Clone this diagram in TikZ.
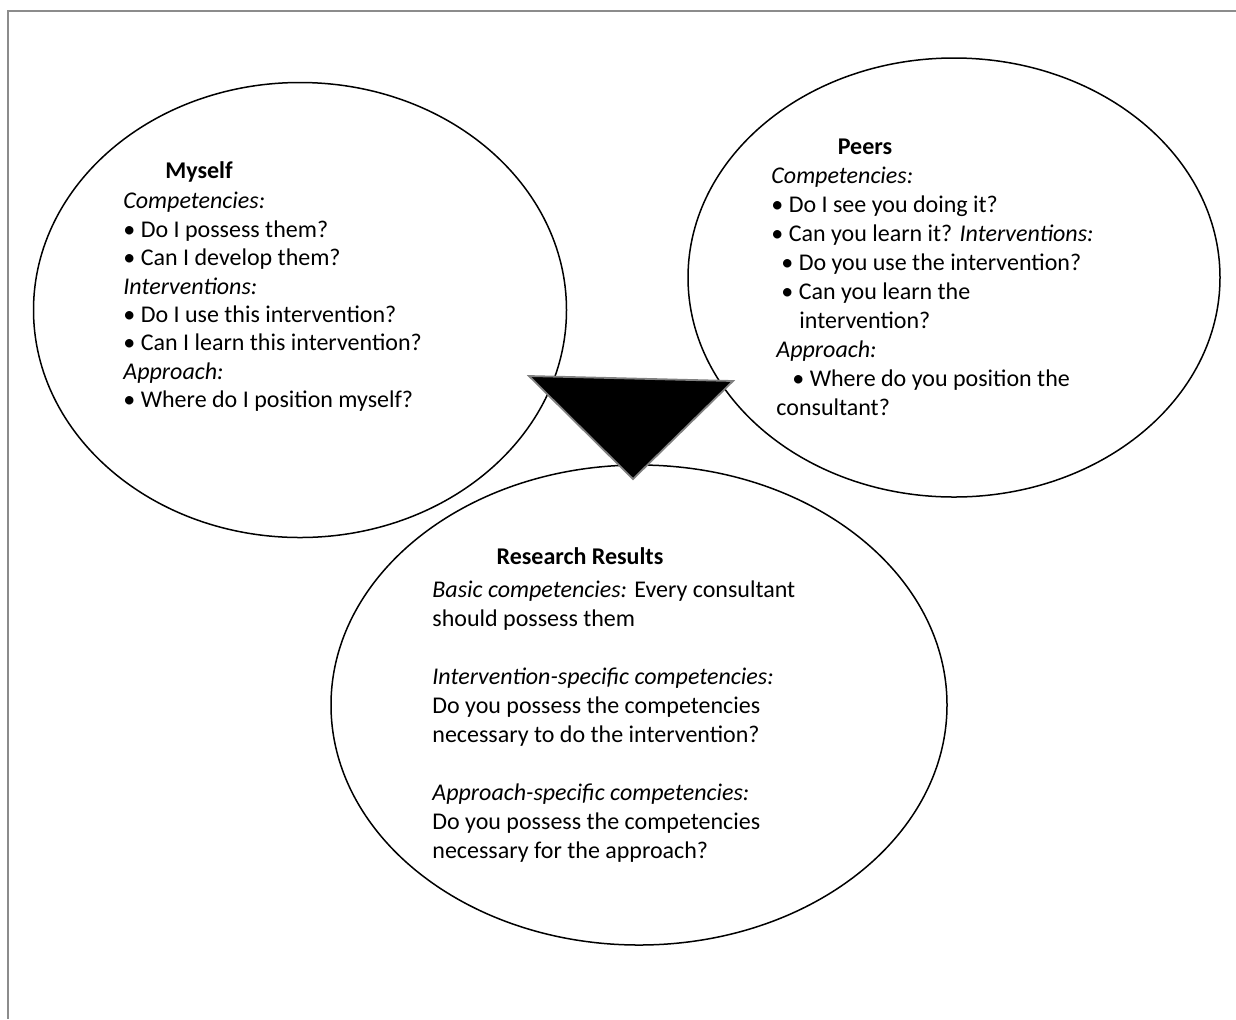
\documentclass[tikz,border=0pt]{standalone}
\usepackage{fontspec}
\setmainfont{Carlito}
\usepackage{tikz}
\usetikzlibrary{shapes.geometric}

\newcommand{\bubblefont}{\fontsize{12}{14.5}\selectfont}
\tikzset{
  bubble/.style={draw, ellipse, line width=0.75pt, inner sep=0pt},
  bubbletitle/.style={font=\bubblefont\bfseries, anchor=base, inner sep=0pt},
  bubbletext/.style={font=\bubblefont, align=left, anchor=north west, inner sep=0pt}
}

\begin{document}
\begin{tikzpicture}[x=0.5pt, y=-0.5pt]
    \useasboundingbox (0,0) rectangle (1236,1019);
    % Frame
    \draw[black!45, line width=1pt] (1236,10.5) -- (8,10.5) -- (8,1019);
    % Bubbles
    \node[bubble, minimum width=266.5pt, minimum height=227.5pt] (myself) at (300,310) {};
    \node[bubble, minimum width=266pt, minimum height=219.5pt] (peers) at (954,277.5) {};
    \node[bubble, minimum width=308pt, minimum height=240pt] (results) at (639,705) {};
    % Pointer between the bubbles
    \filldraw[fill=black, draw=black!50, line width=0.9pt] (529,376) -- (733,381) -- (633,479) -- cycle;
    % Myself
    \node[bubbletitle] (myself-title) at (199,178) {Myself};
    \node[bubbletext, font=\fontsize{12}{14.2}\selectfont] (myself-text) at (123,192) {\textit{Competencies:}\\
        • Do I possess them?\\
        • Can I develop them?\\
        \textit{Interventions:}\\
        • Do I use this intervention?\\
        • Can I learn this intervention?\\
        \textit{Approach:}\\
        • Where do I position myself?};
    % Peers
    \node[bubbletitle] (peers-title) at (865,154.5) {Peers};
    \node[bubbletext] (peers-text) at (771,167) {\textit{Competencies:}\\
        • Do I see you doing it?\\
        • Can you learn it? \textit{Interventions:}\\
        \hspace*{5pt}• Do you use the intervention?\\
        \hspace*{5pt}• Can you learn the\\
        \hspace*{14pt}intervention?\\
        \hspace*{2.5pt}\textit{Approach:}\\
        \hspace*{10.5pt}• Where do you position the\\
        \hspace*{2.5pt}consultant?};
    % Research results
    \node[bubbletitle] (results-title) at (580,564.5) {Research Results};
    \node[bubbletext] (results-text) at (432,580.5) {\textit{Basic competencies:} Every consultant\\
        should possess them\\[14.5pt]
        \textit{Intervention-specific competencies:}\\
        Do you possess the competencies\\
        necessary to do the intervention?\\[14.5pt]
        \textit{Approach-specific competencies:}\\
        Do you possess the competencies\\
        necessary for the approach?};
\end{tikzpicture}
\end{document}
